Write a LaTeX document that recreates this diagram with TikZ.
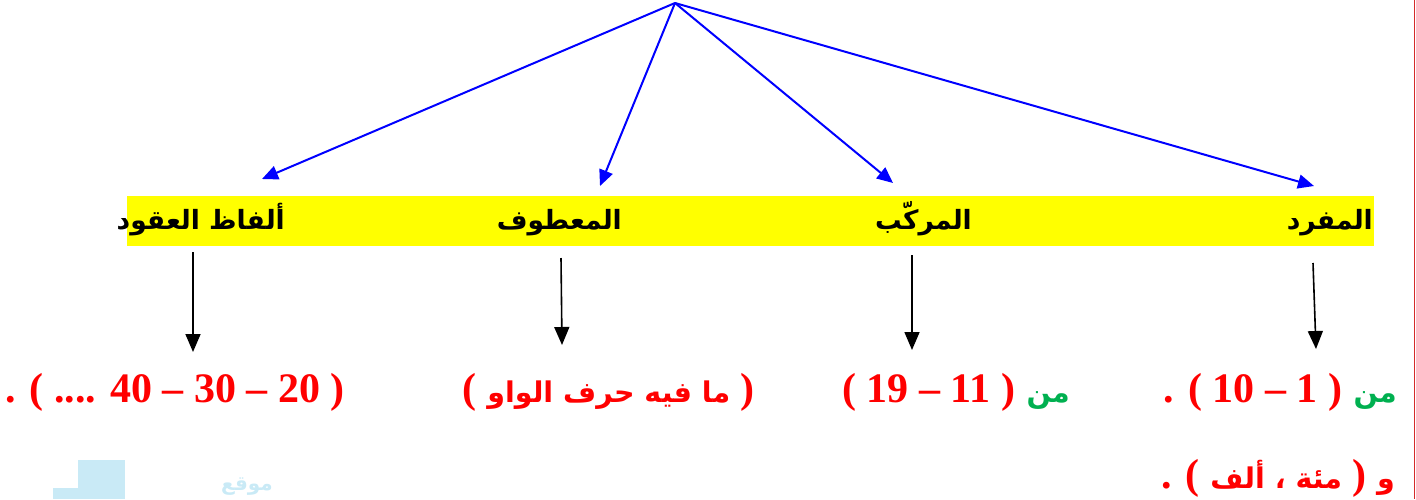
\documentclass[tikz,border=0pt]{standalone}
\usepackage{fontspec}
\usetikzlibrary{arrows.meta}
\TeXXeTstate=1
\newfontfamily\arfont[Script=Arabic]{DejaVu Sans}
\newfontfamily\numfont{Liberation Serif}
\definecolor{wordgreen}{HTML}{00B050}
\definecolor{wmblue}{HTML}{C9EAF6}
\definecolor{edgered}{HTML}{D42A2A}
\definecolor{bandyellow}{HTML}{FFFF00}
\newcommand\arw[1]{{\arfont\bfseries\fontsize{28.5}{34}\selectfont\mbox{\beginR #1\endR}}}
\tikzset{
  bluearrow/.style={draw=blue, line width=2pt, -{Triangle[length=16pt,width=14pt]}},
  blackarrow/.style={draw=black, line width=1.6pt, -{Triangle[length=18pt,width=15pt]}},
  lab/.style={inner sep=0pt, anchor=base east, text=black, font=\arfont\bfseries\fontsize{26.5}{32}\selectfont},
  txt/.style={inner sep=0pt, anchor=base east, text=red, font=\numfont\bfseries\fontsize{42}{48}\selectfont},
  greentxt/.style={inner sep=0pt, anchor=base east, text=wordgreen, font=\arfont\bfseries\fontsize{28.5}{34}\selectfont},
}
\begin{document}
\begin{tikzpicture}[x=1pt,y=-1pt]
\useasboundingbox (0,0) rectangle (1416,499);
% watermark
\fill[wmblue] (78,460) rectangle (125,499);
\fill[wmblue] (53,488) rectangle (78,499);
\node[inner sep=0pt, anchor=base east, text=wmblue, font=\arfont\bfseries\fontsize{20}{24}\selectfont] (wm) at (273,490) {موقع};
% right edge line
\draw[edgered, line width=1pt] (1414.5,0) -- (1414.5,499);
% yellow band
\fill[bandyellow] (127,196) rectangle (1374,246);
% labels
\node[lab] (l1) at (285,229) {\beginR ألفاظ العقود\endR};
\node[lab] (l2) at (622,229) {\beginR المعطوف\endR};
\node[lab] (l3) at (972,229) {\beginR المركّب\endR};
\node[lab] (l4) at (1373,229) {\beginR المفرد\endR};
% blue arrows
\coordinate (apex) at (675,3);
\coordinate (b1) at (262,179);
\coordinate (b2) at (600,186);
\coordinate (b3) at (893,183);
\coordinate (b4) at (1314,186);
\foreach \t in {b1,b2,b3,b4} \draw[bluearrow] (apex) -- (\t);
% black arrows
\coordinate (k1s) at (193,252); \coordinate (k1e) at (193,352);
\coordinate (k2s) at (561,258); \coordinate (k2e) at (562,345);
\coordinate (k3s) at (912,255); \coordinate (k3e) at (912,350);
\coordinate (k4s) at (1313,263); \coordinate (k4e) at (1316,349);
\foreach \i in {1,2,3,4} \draw[blackarrow] (k\i s) -- (k\i e);
% bottom texts
\node[greentxt] (g1) at (1397,402) {من};
\node[txt] (r1) at ([xshift=-11pt]g1.base west) {. ( 10 – 1 )};
\node[greentxt] (g2) at (1070,402) {من};
\node[txt] (r2) at ([xshift=-11pt]g2.base west) {( 19 – 11 )};
\node[txt] (r3) at (755,402) {( \arw{ما فيه حرف الواو} )};
\node[txt] (r4) at (345,402) {. ( .... 40 – 30 – 20 )};
\node[txt] (r5) at (1395,488) {. ( \arw{مئة ، ألف} ) \arw{و}};
\end{tikzpicture}
\end{document}
